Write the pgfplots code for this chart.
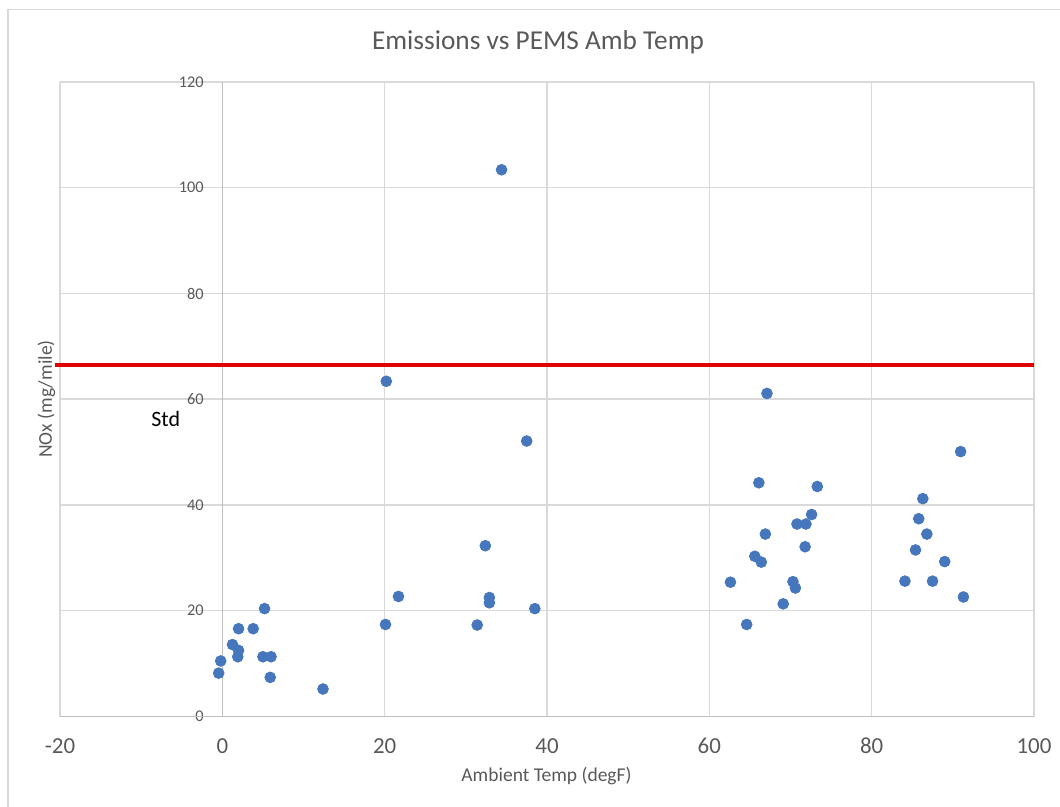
\documentclass[border=0pt]{standalone}
\usepackage{fontspec}
\setmainfont{Carlito}
\usepackage{pgfplots}
\pgfplotsset{compat=1.18}
\definecolor{txtgray}{HTML}{595959}
\definecolor{gridgray}{HTML}{D9D9D9}
\definecolor{axgray}{HTML}{BFBFBF}
\definecolor{dotblue}{HTML}{4677BD}
\definecolor{stdred}{HTML}{E00000}
\begin{document}
\begin{tikzpicture}
\useasboundingbox (0,0) rectangle (530bp,403.5bp);
\draw[gridgray, line width=0.75bp] (4bp,0) -- (4bp,398.8bp) -- (530bp,398.8bp);
\begin{axis}[
  at={(30bp,45.25bp)}, anchor=south west,
  scale only axis, width=487bp, height=317.25bp,
  xmin=-20, xmax=100, ymin=0, ymax=120,
  xtick={-20,0,...,100}, ytick={0,20,...,120},
  grid=major, major grid style={gridgray, line width=0.75bp},
  axis line style={draw=none},
  tick style={draw=none},
  /pgf/number format/assume math mode=true,
  xticklabel style={font=\fontsize{11.5}{13}\selectfont, text=txtgray, inner sep=0pt, anchor=center, yshift=-14.6bp},
  yticklabel style={font=\fontsize{8.2}{10}\selectfont, text=txtgray, inner sep=0pt, anchor=east, xshift=72bp},
  clip=false,
]
\draw[axgray, line width=0.75bp] (axis cs:0,0) -- (axis cs:0,120);
\draw[axgray, line width=0.75bp] (axis cs:-20,0) -- (axis cs:100,0);
\addplot[stdred, line width=2bp, forget plot] coordinates {(-20.6,66.5) (100,66.5)};
\addplot[only marks, mark=*, mark size=2.7bp, mark options={fill=dotblue, draw=dotblue}] table {
x y
-0.45 8.2
-0.2 10.5
1.25 13.6
2.0 12.5
1.9 11.3
2.0 16.6
3.8 16.6
5.2 20.4
5.0 11.3
6.0 11.3
5.9 7.4
12.4 5.2
20.1 17.4
21.7 22.7
20.2 63.4
31.4 17.3
32.4 32.3
32.9 22.5
32.9 21.5
34.4 103.4
37.5 52.1
38.5 20.4
62.6 25.4
64.6 17.4
65.6 30.3
66.1 44.2
66.4 29.2
66.9 34.5
67.1 61.1
69.1 21.3
70.3 25.5
70.6 24.3
70.8 36.4
71.8 32.1
71.9 36.4
72.6 38.2
73.3 43.5
84.1 25.6
85.4 31.5
85.8 37.4
86.3 41.2
86.8 34.5
87.5 25.6
89.0 29.3
90.96 50.1
91.3 22.6
};
\node[font=\fontsize{11}{13}\selectfont, text=black] at (axis cs:-6.98,56.3) {Std};
\end{axis}
\node[font=\fontsize{13.7}{16}\selectfont, text=txtgray] at (269bp,382.5bp) {Emissions vs PEMS Amb Temp};
\node[font=\fontsize{9.8}{12}\selectfont, text=txtgray] at (273.25bp,15.5bp) {Ambient Temp (degF)};
\node[font=\fontsize{9.8}{12}\selectfont, text=txtgray, rotate=90] at (23.25bp,204bp) {NOx (mg/mile)};
\end{tikzpicture}
\end{document}
